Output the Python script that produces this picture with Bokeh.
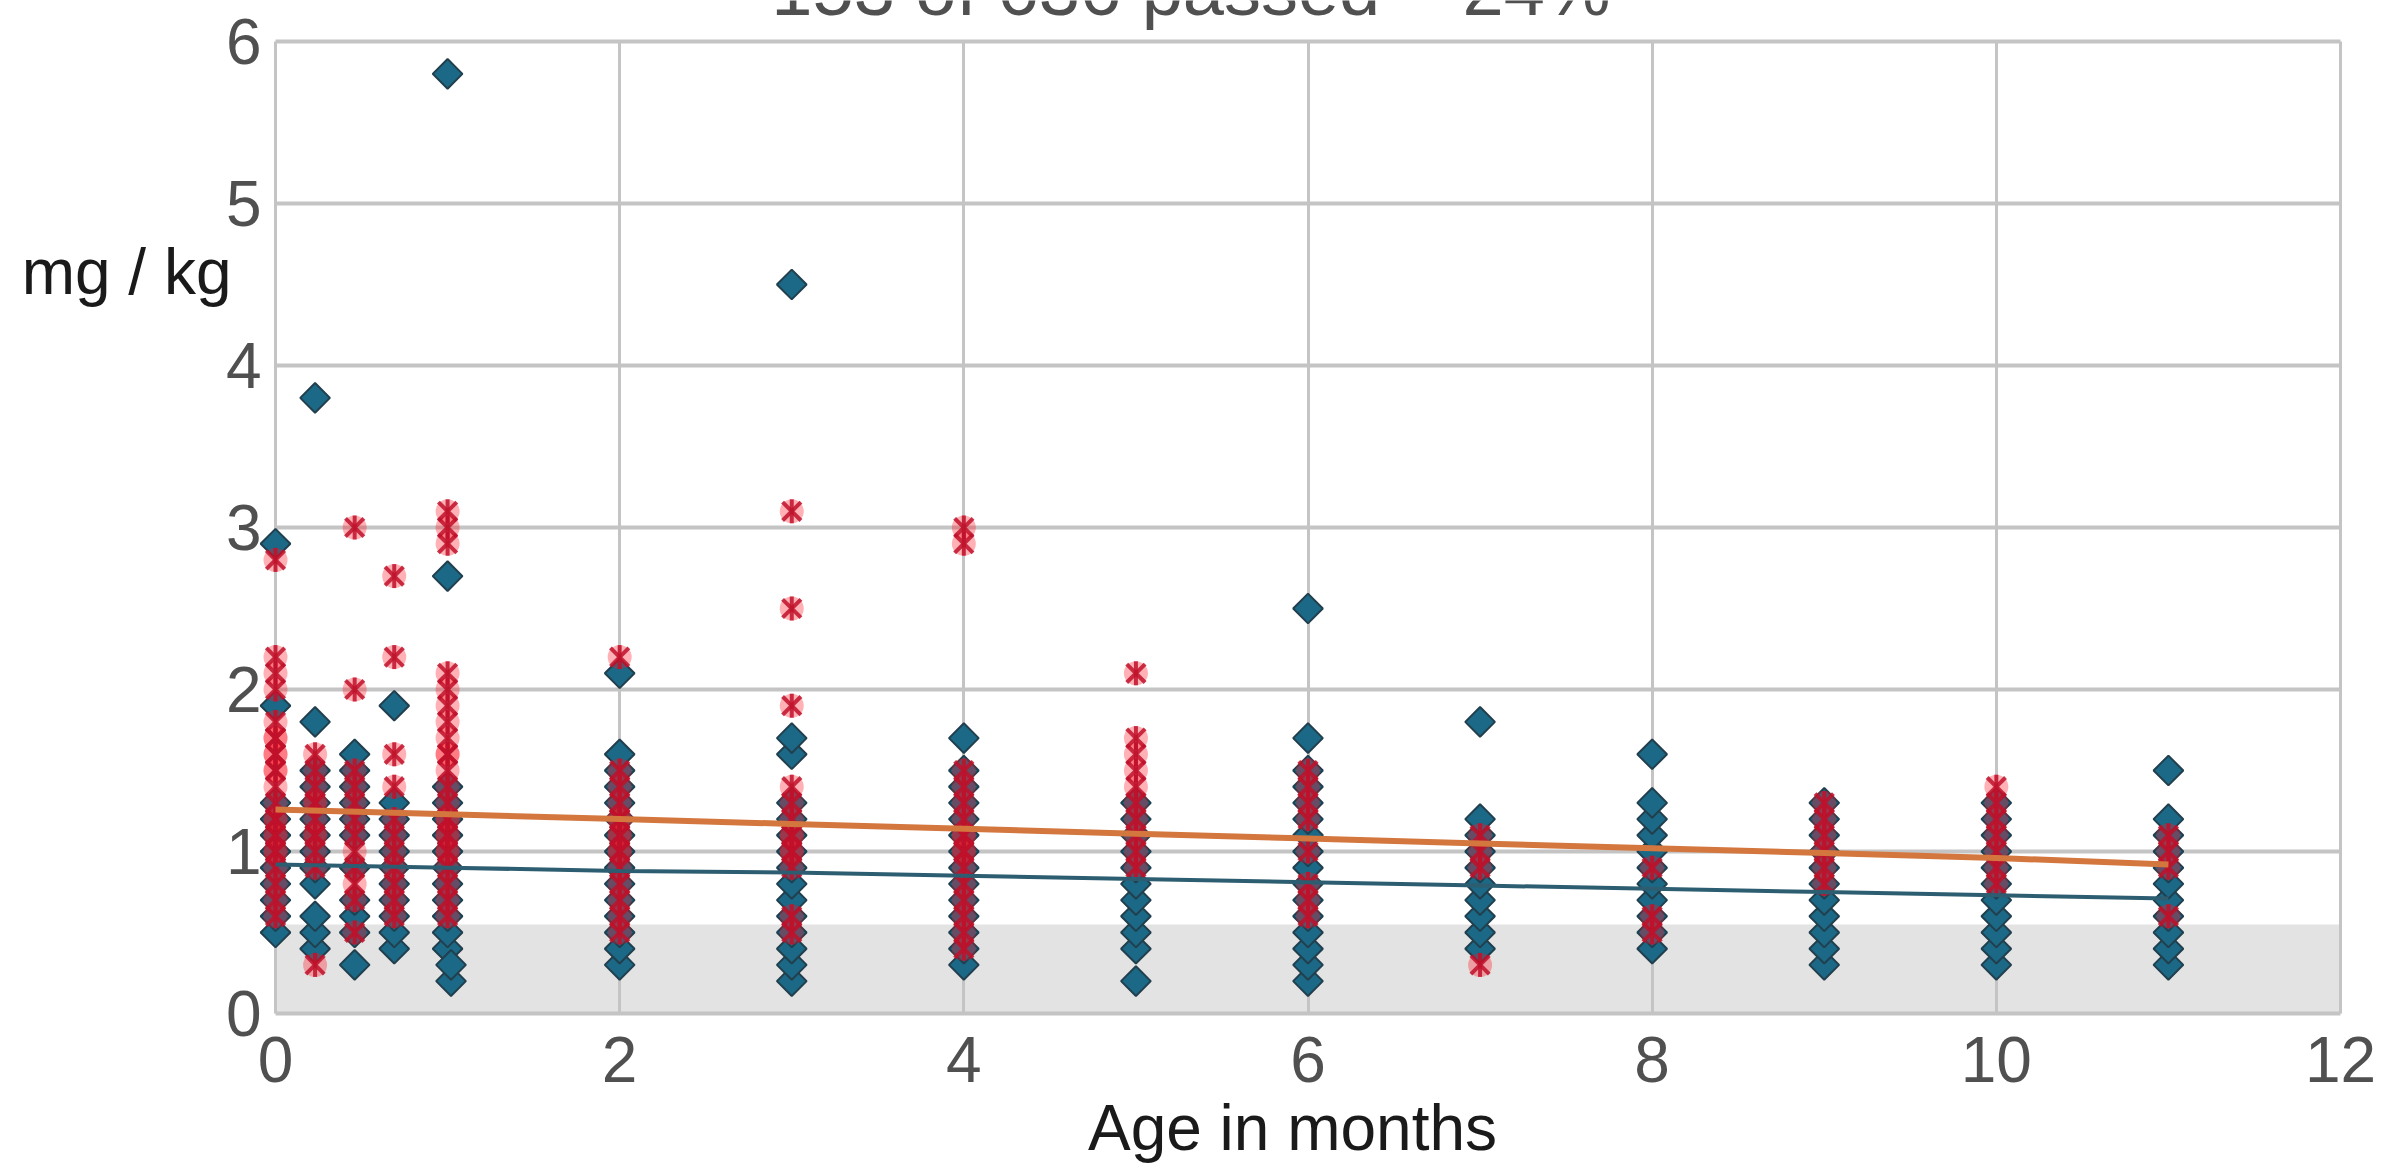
import math
from bokeh.plotting import figure
from bokeh.models import Label, BoxAnnotation, FixedTicker, Range1d
from bokeh.embed import file_html
from bokeh.resources import INLINE

# ---------------- texts / ticks ----------------
TITLE = "153 of 636 passed \u2013 24%"
X_LABEL = "Age in months"
Y_LABEL = "mg / kg"
X_TICKS = [0, 2, 4, 6, 8, 10, 12]
Y_TICKS = [0, 1, 2, 3, 4, 5, 6]
LIMIT = 0.55  # shaded band upper bound (mg / kg)

# ---------------- series A (diamonds), one list per age ----------------
a_age = [0, 0.23, 0.46, 0.69, 1, 1.02, 2, 3, 4, 5, 6, 7, 8, 9, 10, 11]
a_m000 = [0.5, 0.6, 0.7, 0.8, 0.9, 1.0, 1.1, 1.2, 1.3, 1.9, 2.9]
a_m023 = [0.4, 0.5, 0.6, 0.8, 0.9, 1.0, 1.1, 1.2, 1.3, 1.4, 1.5, 1.8, 3.8]
a_m046 = [0.3, 0.5, 0.6, 0.7, 0.9, 1.1, 1.2, 1.3, 1.4, 1.5, 1.6]
a_m069 = [0.4, 0.5, 0.6, 0.7, 0.8, 0.9, 1.0, 1.1, 1.2, 1.3, 1.9]
a_m100 = [0.4, 0.5, 0.6, 0.7, 0.8, 0.9, 1.0, 1.1, 1.2, 1.3, 1.4, 2.7, 5.8]
a_m102 = [0.2, 0.3]
a_m200 = [0.3, 0.4, 0.5, 0.6, 0.7, 0.8, 0.9, 1.0, 1.1, 1.2, 1.3, 1.4, 1.5, 1.6, 2.1]
a_m300 = [0.2, 0.3, 0.4, 0.5, 0.6, 0.7, 0.8, 0.9, 1.0, 1.1, 1.2, 1.3, 1.6, 1.7, 4.5]
a_m400 = [0.3, 0.4, 0.5, 0.6, 0.7, 0.8, 0.9, 1.0, 1.1, 1.2, 1.3, 1.4, 1.5, 1.7]
a_m500 = [0.2, 0.4, 0.5, 0.6, 0.7, 0.8, 0.9, 1.0, 1.1, 1.2, 1.3]
a_m600 = [0.2, 0.3, 0.4, 0.5, 0.6, 0.7, 0.8, 0.9, 1.0, 1.1, 1.2, 1.3, 1.4, 1.5, 1.7, 2.5]
a_m700 = [0.4, 0.5, 0.6, 0.7, 0.8, 0.9, 1.0, 1.1, 1.2, 1.8]
a_m800 = [0.4, 0.5, 0.6, 0.7, 0.8, 0.9, 1.0, 1.1, 1.2, 1.3, 1.6]
a_m900 = [0.3, 0.4, 0.5, 0.6, 0.7, 0.8, 0.9, 1.0, 1.1, 1.2, 1.3]
a_m1000 = [0.3, 0.4, 0.5, 0.6, 0.7, 0.8, 0.9, 1.0, 1.1, 1.2, 1.3]
a_m1100 = [0.3, 0.4, 0.5, 0.6, 0.7, 0.8, 0.9, 1.0, 1.1, 1.2, 1.5]

# ---------------- series B (asterisks), one list per age ----------------
b_age = [0, 0.23, 0.46, 0.69, 1, 2, 3, 4, 5, 6, 7, 8, 9, 10, 11]
b_m000 = [0.6, 0.7, 0.8, 0.9, 1.0, 1.0, 1.1, 1.1, 1.2, 1.2, 1.3, 1.4, 1.5, 1.5,
          1.6, 1.6, 1.7, 1.7, 1.8, 2.0, 2.1, 2.2, 2.8]
b_m023 = [0.3, 0.9, 1.0, 1.1, 1.1, 1.2, 1.3, 1.3, 1.4, 1.5, 1.6]
b_m046 = [0.5, 0.7, 0.8, 0.9, 1.0, 1.1, 1.2, 1.3, 1.4, 1.5, 2.0, 3.0]
b_m069 = [0.6, 0.7, 0.8, 0.9, 1.0, 1.1, 1.2, 1.4, 1.6, 2.2, 2.7]
b_m100 = [0.6, 0.7, 0.8, 0.9, 1.0, 1.0, 1.1, 1.1, 1.2, 1.2, 1.3, 1.4, 1.5, 1.6,
          1.6, 1.7, 1.8, 1.9, 2.0, 2.1, 2.9, 3.0, 3.1]
b_m200 = [0.5, 0.6, 0.7, 0.8, 0.9, 1.0, 1.0, 1.1, 1.1, 1.2, 1.2, 1.3, 1.4, 1.5, 2.2]
b_m300 = [0.5, 0.6, 0.9, 1.0, 1.0, 1.1, 1.1, 1.2, 1.3, 1.4, 1.9, 2.5, 3.1]
b_m400 = [0.4, 0.5, 0.6, 0.7, 0.8, 0.9, 1.0, 1.0, 1.1, 1.1, 1.2, 1.3, 1.4, 1.5, 2.9, 3.0]
b_m500 = [0.9, 1.0, 1.1, 1.2, 1.3, 1.4, 1.5, 1.6, 1.7, 2.1]
b_m600 = [0.6, 0.7, 0.8, 1.0, 1.2, 1.3, 1.4, 1.5]
b_m700 = [0.3, 0.9, 1.0, 1.1]
b_m800 = [0.5, 0.6, 0.9]
b_m900 = [0.8, 0.9, 1.0, 1.1, 1.2, 1.3]
b_m1000 = [0.8, 0.9, 1.0, 1.1, 1.2, 1.3, 1.4]
b_m1100 = [0.6, 0.9, 1.0, 1.1]

# ---------------- trend lines ----------------
trend_age = [0, 1, 2, 3, 4, 5, 6, 7, 8, 9, 10, 11]
trend_a = [0.92, 0.90, 0.88, 0.87, 0.85, 0.83, 0.81, 0.79, 0.77, 0.75, 0.73, 0.71]
trend_b = [1.26, 1.23, 1.20, 1.17, 1.14, 1.11, 1.08, 1.05, 1.02, 0.99, 0.96, 0.92]

a_cols = [a_m000, a_m023, a_m046, a_m069, a_m100, a_m102, a_m200, a_m300, a_m400,
          a_m500, a_m600, a_m700, a_m800, a_m900, a_m1000, a_m1100]
b_cols = [b_m000, b_m023, b_m046, b_m069, b_m100, b_m200, b_m300, b_m400,
          b_m500, b_m600, b_m700, b_m800, b_m900, b_m1000, b_m1100]

ax, ay = [], []
for age, vals in zip(a_age, a_cols):
    ax += [age] * len(vals)
    ay += vals
bx, by = [], []
for age, vals in zip(b_age, b_cols):
    bx += [age] * len(vals)
    by += vals

FONT = "Liberation Sans, Arial, sans-serif"
X_MIN, X_MAX = 0, 12
Y_MIN, Y_MAX = 0, 6

# ---------------- layout (pixels) ----------------
W, H = 2382, 1164
PX_X0, PX_X1 = 275, 2340     # canvas x of X_MIN / X_MAX
PX_Y0, PX_Y1 = 1013, 41      # canvas y of Y_MIN / Y_MAX
kx = (X_MAX - X_MIN) / (PX_X1 - PX_X0)
ky = (Y_MAX - Y_MIN) / (PX_Y0 - PX_Y1)
x_range = Range1d(X_MIN - PX_X0 * kx, X_MAX + (W - PX_X1) * kx)
y_range = Range1d(Y_MIN - (H - PX_Y0) * ky, Y_MAX + PX_Y1 * ky)

p = figure(width=W, height=H, x_range=x_range, y_range=y_range,
           output_backend="svg", toolbar_location=None,
           min_border_left=0, min_border_right=0, min_border_top=0, min_border_bottom=0)
p.outline_line_color = None
p.background_fill_color = "white"
p.border_fill_color = "white"

p.xaxis.fixed_location = Y_MIN
p.yaxis.fixed_location = X_MIN
p.xaxis.ticker = FixedTicker(ticks=X_TICKS)
p.yaxis.ticker = FixedTicker(ticks=Y_TICKS)
p.xgrid.ticker = FixedTicker(ticks=X_TICKS)
p.ygrid.ticker = FixedTicker(ticks=Y_TICKS)
for axis in (p.xaxis[0], p.yaxis[0]):
    axis.axis_line_color = None
    axis.major_tick_line_color = None
    axis.minor_tick_line_color = None
    axis.major_label_text_font = FONT
    axis.major_label_text_font_size = "64px"
    axis.major_label_text_color = "#505050"
p.xaxis.major_label_standoff = 17
p.yaxis.major_label_standoff = 8

p.xgrid.grid_line_color = "#c4c4c4"
p.xgrid.grid_line_width = 3
p.xgrid.bounds = (X_MIN, X_MAX)
p.xgrid.cross_bounds = (Y_MIN, Y_MAX)
p.ygrid.grid_line_color = "#c4c4c4"
p.ygrid.grid_line_width = 4
p.ygrid.bounds = (Y_MIN, Y_MAX)
p.ygrid.cross_bounds = (X_MIN, X_MAX)

band = BoxAnnotation(left=X_MIN, right=X_MAX, bottom=Y_MIN, top=LIMIT, fill_color="#e3e3e3",
                     fill_alpha=1.0, line_color=None, level="image")
p.add_layout(band)

p.scatter(ax, ay, marker="square", angle=math.pi / 4, size=21,
          fill_color="#1b6986", line_color="#223f4e", line_width=2)

# series B: translucent red halo + asterisk strokes
p.scatter(bx, by, marker="circle", size=24, fill_color="#ff1122", fill_alpha=0.33,
          line_color=None)
red = "#c0102a"
p.scatter(bx, by, marker="x", size=26, line_color=red, line_alpha=0.85, line_width=4)
p.scatter(bx, by, marker="dash", angle=math.pi / 2, size=24, line_color=red,
          line_alpha=0.85, line_width=4)

p.line(trend_age, trend_a, line_color="#2d5d70", line_width=4)
p.line(trend_age, trend_b, line_color="#d4773e", line_width=6)

p.add_layout(Label(x=5.32, y=Y_MAX, y_offset=52, text=TITLE,
                   text_align="center", text_baseline="alphabetic",
                   text_font=FONT, text_font_size="74px", text_color="#505050"))
p.add_layout(Label(x=X_MIN, y=4.58, x_offset=-44, text=Y_LABEL,
                   text_align="right", text_baseline="alphabetic",
                   text_font=FONT, text_font_size="64px", text_color="#1a1a1a"))
p.add_layout(Label(x=5.91, y=Y_MIN, y_offset=-114, text=X_LABEL,
                   text_align="center", text_baseline="alphabetic",
                   text_font=FONT, text_font_size="64px", text_color="#1a1a1a"))

open("out.html", "w").write(file_html(p, INLINE))
